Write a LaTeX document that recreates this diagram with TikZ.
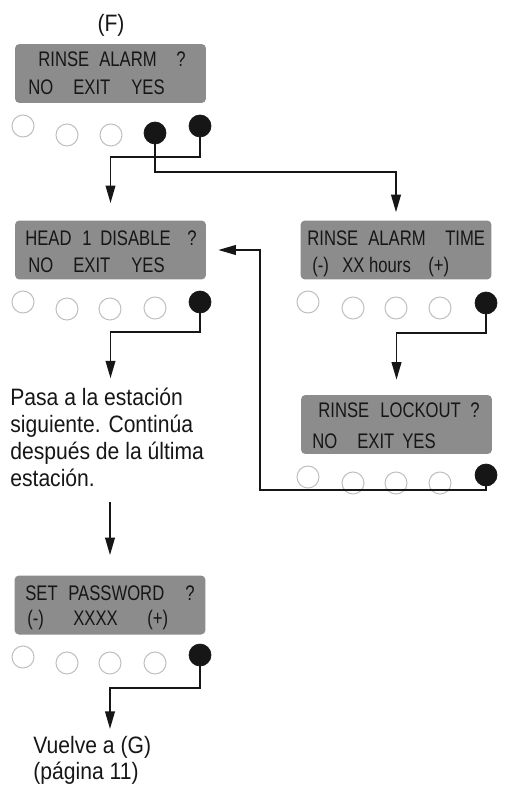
\documentclass[tikz,border=0pt]{standalone}
\usepackage{fontspec}
\setmainfont[FakeStretch=0.89]{Liberation Sans}
\newfontfamily\lcdfont[FakeStretch=0.79]{Liberation Sans}
\usetikzlibrary{arrows.meta,positioning}
\definecolor{lcdgray}{RGB}{140,140,140}
\definecolor{ledgray}{RGB}{192,192,192}
\definecolor{inkblack}{RGB}{22,22,22}
\newdimen\pxunit \pxunit=0.569pt
\newcommand{\wordslot}[2]{\makebox[#1\pxunit][l]{#2}}
\tikzset{
  lcd/.style={fill=lcdgray,rounded corners=2.5pt,minimum width=3.82cm,minimum height=1.18cm,inner sep=0pt},
  lcdline/.style={anchor=base west,inner sep=0pt,font=\lcdfont\fontsize{12}{13}\selectfont,text=inkblack},
  led/.style={circle,draw=ledgray,line width=0.6pt,minimum size=0.44cm,inner sep=0pt},
  ledon/.style={circle,fill=inkblack,draw=inkblack,minimum size=0.44cm,inner sep=0pt},
  flow/.style={draw=inkblack,line width=1.05pt,-{Triangle[length=10pt,width=5.5pt]}},
  note/.style={font=\fontsize{13.5}{15.4}\selectfont,align=left,inner sep=0pt,text=inkblack}
}
\begin{document}
\begin{tikzpicture}[x=0.02cm,y=-0.02cm]
  \useasboundingbox (0,0) rectangle (506,800);
  \node[font=\fontsize{13.5}{15}\selectfont,text=inkblack] (labelF) at (111,25) {(F)};
  %% displays
  \node[lcd] (alarm) at (110.5,73.5) {};
  \node[lcdline] (alarm-l1) at (38,67) {\wordslot{61}{RINSE}\wordslot{77}{ALARM}?};
  \node[lcdline] (alarm-l2) at (28,95) {\wordslot{45}{NO}\wordslot{58}{EXIT}YES};
  \node[lcd] (head) at (110.5,250) {};
  \node[lcdline] (head-l1) at (25,246) {\wordslot{57}{HEAD}\wordslot{18}{1}\wordslot{87}{DISABLE}?};
  \node[lcdline] (head-l2) at (28,273) {\wordslot{45}{NO}\wordslot{58}{EXIT}YES};
  \node[lcd] (ratime) at (396,250) {};
  \node[lcdline] (ratime-l1) at (307,246) {\wordslot{61}{RINSE}\wordslot{77}{ALARM}TIME};
  \node[lcdline] (ratime-l2) at (312,273) {\wordslot{30}{(-)}\wordslot{86}{XX hours}(+)};
  \node[lcd] (lockout) at (396.5,424.5) {};
  \node[lcdline] (lockout-l1) at (318,417) {\wordslot{62}{RINSE}\wordslot{90}{LOCKOUT}?};
  \node[lcdline] (lockout-l2) at (312,448) {\wordslot{45}{NO}\wordslot{45}{EXIT}YES};
  \node[lcd] (setpw) at (110,605) {};
  \node[lcdline] (setpw-l1) at (25,600) {\wordslot{43}{SET}\wordslot{117}{PASSWORD}?};
  \node[lcdline] (setpw-l2) at (27,625) {\wordslot{46}{(-)}\wordslot{74}{XXXX}(+)};
  %% buttons
  \foreach \n/\x/\y in {1/23/126,2/67/135,3/111/135}
    \node[led] (alarm-\n) at (\x,\y) {};
  \node[ledon] (alarm-4) at (155,133) {};
  \node[ledon] (alarm-5) at (200,126) {};
  \foreach \n/\x/\y in {1/23/302,2/67/309,3/110/309,4/155/308}
    \node[led] (head-\n) at (\x,\y) {};
  \node[ledon] (head-5) at (200,302) {};
  \foreach \n/\x/\y in {1/308/302,2/353/308,3/396/308,4/440/308}
    \node[led] (ratime-\n) at (\x,\y) {};
  \node[ledon] (ratime-5) at (486,303) {};
  \foreach \n/\x/\y in {1/308/477,2/353/483,3/396/483,4/440/483}
    \node[led] (lockout-\n) at (\x,\y) {};
  \node[ledon] (lockout-5) at (486,475) {};
  \foreach \n/\x/\y in {1/23/657,2/67/663,3/110/663,4/155/663}
    \node[led] (setpw-\n) at (\x,\y) {};
  \node[ledon] (setpw-5) at (200,655) {};
  %% notes
  \node[note,anchor=north west] (pasa) at (10,388)
    {Pasa a la estación\\siguiente. Continúa\\después de la última\\estación.};
  \node[note,anchor=north west,font=\fontsize{13.5}{14.5}\selectfont] (vuelve) at (33,736)
    {Vuelve a (G)\\(página 11)};
  \coordinate (backcorner) at (260,490);
  %% connectors
  \draw[flow,shorten >=9.7pt] (alarm-5) -- ++(0,31) -| (head);
  \draw[flow,shorten >=4.5pt] (alarm-4) -- ++(0,39) -| (ratime);
  \draw[flow,shorten >=8.5pt] (ratime-5) -- ++(0,30) -| (lockout);
  \draw[flow,shorten >=6.8pt] (lockout-5) |- (backcorner) |- (head.east);
  \draw[flow,shorten >=5.5pt] (head-5) -- ++(0,30) -| (head.south |- pasa.north);
  \draw[flow,shorten <=8pt,shorten >=11.4pt] (pasa.south -| setpw) -- (setpw);
  \draw[flow,shorten >=4pt] (setpw-5) -- ++(0,33) -| (setpw.south |- vuelve.north);
\end{tikzpicture}
\end{document}
